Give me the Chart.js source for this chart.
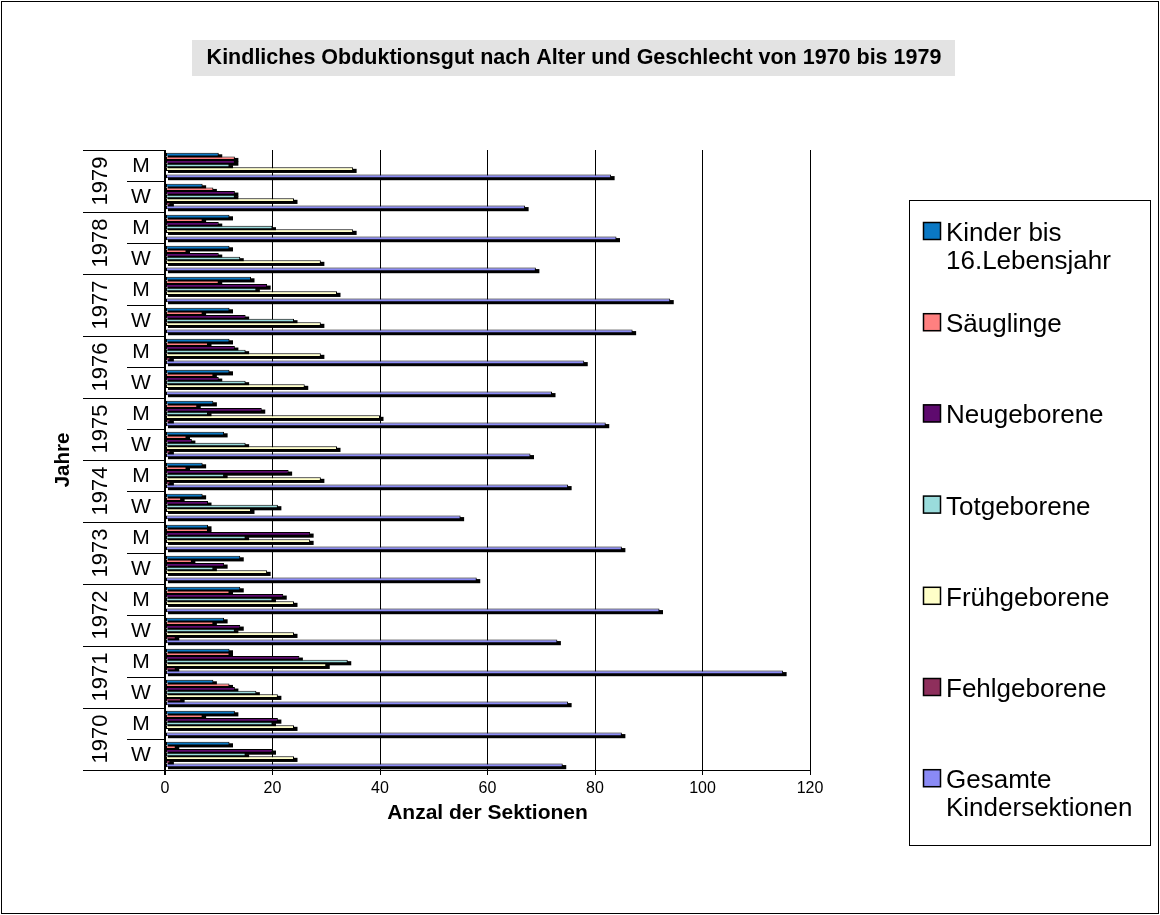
<!DOCTYPE html>
<html>
<head>
<meta charset="utf-8">
<script src="https://cdn.jsdelivr.net/npm/chart.js@4.4.1/dist/chart.umd.min.js"></script>
<style>
  html, body { margin: 0; padding: 0; background: #fff; }
  #wrap { width: 1160px; height: 915px; position: relative; }
</style>
</head>
<body>
<div id="wrap"><canvas id="c" width="1160" height="915"></canvas></div>
<script>
// ---- Texts -----------------------------------------------------------
const chartTitle = 'Kindliches Obduktionsgut nach Alter und Geschlecht von 1970 bis 1979';
const xAxisTitle = 'Anzal der Sektionen';
const yAxisTitle = 'Jahre';

// ---- Categories (top to bottom) -------------------------------------
const categories = ['M','W','M','W','M','W','M','W','M','W','M','W','M','W','M','W','M','W','M','W'];
const years = ['1979','1978','1977','1976','1975','1974','1973','1972','1971','1970'];
const xTicks = [0, 20, 40, 60, 80, 100, 120];

// ---- Series ----------------------------------------------------------
const seriesNames = ['Kinder bis 16.Lebensjahr', 'Säuglinge', 'Neugeborene', 'Totgeborene',
                     'Frühgeborene', 'Fehlgeborene', 'Gesamte Kindersektionen'];
const seriesColors = ['#0A78C4', '#FF8080', '#5E0A6E', '#9ADCDC', '#FFFFC8', '#8E2F5C', '#8A8AF5'];

const kinder       = [10, 7, 12, 12, 16, 12, 12, 12,  9, 11,  7,  7,  8, 14, 14, 11,  12,  9, 13, 12];
const saeuglinge   = [13, 9,  7,  4, 10,  7,  8,  9,  6,  4,  4,  3,  8,  5, 12,  9,  12, 12,  7,  2];
const neugeborene  = [13, 13, 10, 10, 19, 15, 13, 10, 18,  5, 23,  8, 27, 11, 22, 14,  25, 13, 21, 20];
const totgeborene  = [12, 13, 20, 14, 17, 24, 15, 15,  8, 15, 11, 21, 15,  9, 20, 13,  34, 17, 20, 15];
const fruehgeborene= [35, 24, 35, 29, 32, 29, 29, 26, 40, 32, 29, 16, 27, 19, 24, 24,  30, 21, 24, 24];
const fehlgeborene = [ 0,  1,  0,  0,  0,  0,  1,  0,  1,  1,  1,  0,  0,  0,  0,  2,   2,  3,  0,  1];
const gesamt       = [83, 67, 84, 69, 94, 87, 78, 72, 82, 68, 75, 55, 85, 58, 92, 73, 115, 75, 85, 74];

const seriesValues = [kinder, saeuglinge, neugeborene, totgeborene, fruehgeborene, fehlgeborene, gesamt];

const FONT = 'Arial, "Liberation Sans", Helvetica, sans-serif';

// ---- Drawing helpers -------------------------------------------------
function wrapWords(ctx, text, maxWidth) {
  const words = text.split(' ');
  const lines = [];
  let line = '';
  for (const w of words) {
    const test = line ? line + ' ' + w : w;
    if (line && ctx.measureText(test).width > maxWidth) { lines.push(line); line = w; }
    else line = test;
  }
  if (line) lines.push(line);
  return lines;
}

const decor = {
  id: 'decor',
  beforeDraw(chart) {
    const ctx = chart.ctx;
    ctx.save();
    ctx.fillStyle = '#fff';
    ctx.fillRect(0, 0, chart.width, chart.height);
    // outer frame
    ctx.strokeStyle = '#000';
    ctx.lineWidth = 1;
    ctx.strokeRect(1.5, 1.5, chart.width - 3, chart.height - 3);
    // title with grey band
    ctx.fillStyle = '#E3E3E3';
    ctx.fillRect(192, 40, 763, 36);
    ctx.fillStyle = '#000';
    ctx.font = 'bold 21.5px ' + FONT;
    ctx.textAlign = 'center';
    ctx.textBaseline = 'middle';
    ctx.fillText(chartTitle, 574, 58);
    ctx.restore();
  },
  beforeDatasetsDraw(chart) {
    // drop shadow behind each bar
    const ctx = chart.ctx;
    const area = chart.chartArea;
    ctx.save();
    ctx.beginPath();
    ctx.rect(area.left, area.top - 5, area.right - area.left + 8, area.bottom - area.top + 5);
    ctx.clip();
    ctx.fillStyle = '#000';
    chart.data.datasets.forEach((ds, i) => {
      chart.getDatasetMeta(i).data.forEach(bar => {
        const p = bar.getProps(['x', 'y', 'base', 'height'], true);
        const left = Math.min(p.x, p.base);
        const w = Math.abs(p.x - p.base);
        if (w <= 0) return;
        ctx.fillRect(left + 2, p.y - p.height / 2 + 1.5, w + 1.5, p.height + 0.5);
      });
    });
    ctx.restore();
  },
  afterDraw(chart) {
    const ctx = chart.ctx;
    const area = chart.chartArea;
    const yScale = chart.scales.y;
    const band = (area.bottom - area.top) / categories.length;
    ctx.save();
    ctx.strokeStyle = '#000';
    ctx.lineWidth = 1;
    ctx.fillStyle = '#000';

    // category separators
    categories.forEach((c, i) => {
      const top = Math.round(yScale.getPixelForValue(i) - band / 2) + 0.5;
      ctx.beginPath();
      if (i % 2 === 0) { ctx.moveTo(83, top); }
      else { ctx.moveTo(127, top); }
      ctx.lineTo(area.left, top);
      ctx.stroke();
    });
    ctx.beginPath();
    ctx.moveTo(83, area.bottom + 0.5);
    ctx.lineTo(area.left, area.bottom + 0.5);
    ctx.stroke();

    // inner labels (M / W)
    ctx.font = '21px ' + FONT;
    ctx.textAlign = 'center';
    ctx.textBaseline = 'middle';
    categories.forEach((c, i) => {
      ctx.fillText(c, 141, yScale.getPixelForValue(i) + 1);
    });

    // outer labels (years), rotated
    ctx.font = '22px ' + FONT;
    years.forEach((y, g) => {
      const cy = (yScale.getPixelForValue(2 * g) + yScale.getPixelForValue(2 * g + 1)) / 2;
      ctx.save();
      ctx.translate(101, cy);
      ctx.rotate(-Math.PI / 2);
      ctx.fillText(y, 0, 0);
      ctx.restore();
    });

    // axis titles
    ctx.font = 'bold 21px ' + FONT;
    ctx.fillText(xAxisTitle, (area.left + area.right) / 2, 813);
    ctx.font = 'bold 20.5px ' + FONT;
    ctx.save();
    ctx.translate(63, (area.top + area.bottom) / 2);
    ctx.rotate(-Math.PI / 2);
    ctx.fillText(yAxisTitle, 0, 0);
    ctx.restore();

    // legend
    ctx.strokeRect(909.5, 200.5, 241, 645);
    ctx.font = '26px ' + FONT;
    ctx.textAlign = 'left';
    ctx.textBaseline = 'alphabetic';
    chart.data.datasets.forEach((ds, i) => {
      const top = 222 + i * 91.2;
      ctx.fillStyle = ds.backgroundColor;
      ctx.fillRect(923, top, 18, 18);
      ctx.lineWidth = 1.5;
      ctx.strokeStyle = '#000';
      ctx.strokeRect(923.5, top + 0.5, 17, 17);
      ctx.fillStyle = '#000';
      const lines = wrapWords(ctx, ds.label, 195);
      lines.forEach((ln, k) => ctx.fillText(ln, 946, top + 19 + k * 28));
    });
    ctx.restore();
  }
};

const chart = new Chart(document.getElementById('c'), {
  type: 'bar',
  data: {
    labels: categories,
    datasets: seriesNames.map((name, i) => ({
      label: name,
      data: seriesValues[i],
      backgroundColor: seriesColors[i],
      borderColor: '#000',
      borderWidth: 1,
      borderSkipped: false,
      categoryPercentage: 0.82,
      barPercentage: 1.0
    }))
  },
  options: {
    responsive: false,
    animation: false,
    devicePixelRatio: 1,
    indexAxis: 'y',
    layout: { padding: { left: 165, top: 150, right: 350, bottom: 115 } },
    plugins: {
      legend: { display: false },
      title: { display: false },
      tooltip: { enabled: false }
    },
    scales: {
      y: { type: 'category', display: false, offset: true },
      x: {
        type: 'linear',
        min: 0,
        max: 120,
        afterBuildTicks(scale) { scale.ticks = xTicks.map(v => ({ value: v })); },
        afterFit(scale) { scale.height = 30; },
        ticks: { font: { family: FONT, size: 16 }, color: '#000', padding: 4, maxRotation: 0 },
        grid: {
          color: '#000',
          lineWidth: c => (c.tick && c.tick.value === 0 ? 2 : 1),
          tickLength: 5,
          tickColor: '#000'
        },
        border: { display: true, color: '#000', width: 1 }
      }
    }
  },
  plugins: [decor]
});
</script>
</body>
</html>
